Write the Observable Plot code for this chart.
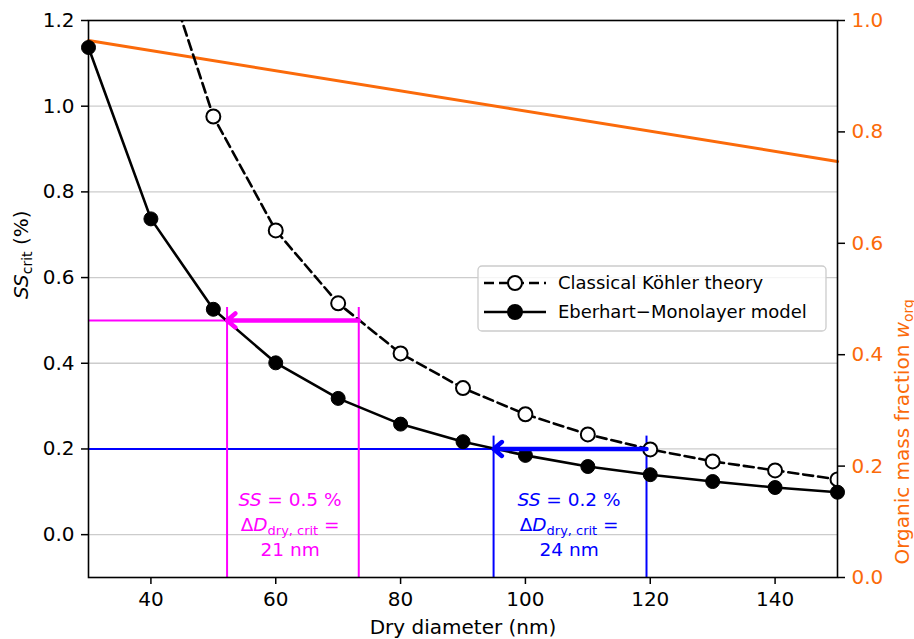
<!DOCTYPE html>
<html>
<head>
<meta charset="utf-8">
<script src="https://cdn.jsdelivr.net/npm/d3@7"></script>
<script src="https://cdn.jsdelivr.net/npm/@observablehq/plot@0.6"></script>
<style>
  html, body { margin: 0; padding: 0; background: white; }
  svg { display: block; }
</style>
</head>
<body>
<div id="chart"></div>
<script>
// ---------- data ----------
const diameters = [30, 40, 50, 60, 70, 80, 90, 100, 110, 120, 130, 140, 150];
const ssEberhart = [1.137, 0.737, 0.526, 0.401, 0.318, 0.258, 0.217, 0.185, 0.159, 0.140, 0.124, 0.110, 0.099];
const diametersClassical = [40, 50, 60, 70, 80, 90, 100, 110, 120, 130, 140, 150];
const ssClassical = [1.42, 0.976, 0.710, 0.540, 0.423, 0.342, 0.281, 0.234, 0.199, 0.171, 0.150, 0.129];
const orgDiameters = [30, 150];
const wOrg = [0.964, 0.747];

const ssLevels = [0.5, 0.2];
const dClassicalAtSS = [73.3, 119.4];
const dEberhartAtSS = [52.2, 94.9];
const guideTops = [0.53, 0.23];
const guideColors = ["#ff00ff", "#0000ff"];
const annX = [62.3, 107.0];
const annY = [0.066, 0.008, -0.05];
const annTexts = [
  ["*SS* = 0.5 %", "Δ*D*_{dry, crit} =", "21 nm"],
  ["*SS* = 0.2 %", "Δ*D*_{dry, crit} =", "24 nm"]
];

const xTicks = [40, 60, 80, 100, 120, 140];
const yTicks = [0.0, 0.2, 0.4, 0.6, 0.8, 1.0, 1.2];
const gridTicks = [0.0, 0.2, 0.4, 0.6, 0.8, 1.0];
const wTicks = [0.0, 0.2, 0.4, 0.6, 0.8, 1.0];
const xDomain = [30, 150];
const yDomain = [-0.1, 1.2];

const legendLabels = ["Classical Köhler theory", "Eberhart\u2212Monolayer model"];

const orange = "#fb6a0a";

// right axis (w_org, 0..1) mapped onto the left y scale
const toLeft = w => yDomain[0] + w * (yDomain[1] - yDomain[0]);

// ---------- tables ----------
const eberhart = diameters.map((d, i) => ({d, ss: ssEberhart[i]}));
const classical = diametersClassical.map((d, i) => ({d, ss: ssClassical[i]}));
const organic = orgDiameters.map((d, i) => ({d, w: wOrg[i]}));
const guides = ssLevels.map((ss, i) => ({
  ss, dC: dClassicalAtSS[i], dE: dEberhartAtSS[i], top: guideTops[i], color: guideColors[i]
}));
const annotations = [];
annTexts.forEach((lines, i) => lines.forEach((t, j) => annotations.push({x: annX[i], y: annY[j], text: t, color: guideColors[i]})));

const svg = Plot.plot({
  width: 914,
  height: 639,
  marginLeft: 88,
  marginRight: 77,
  marginTop: 20,
  marginBottom: 62,
  style: {fontFamily: "'DejaVu Sans', sans-serif", background: "white"},
  x: {domain: xDomain},
  y: {domain: yDomain},
  color: {type: "identity"},
  marks: [
    Plot.gridY(gridTicks, {stroke: "#cccccc", strokeOpacity: 1, strokeWidth: 1.3}),
    // guide lines
    Plot.ruleY(guides, {y: "ss", x1: xDomain[0], x2: "dC", stroke: "color", strokeWidth: 2}),
    Plot.ruleX(guides, {x: "dC", y1: yDomain[0], y2: "top", stroke: "color", strokeWidth: 2}),
    Plot.ruleX(guides, {x: "dE", y1: yDomain[0], y2: "top", stroke: "color", strokeWidth: 2}),
    // organic mass fraction
    Plot.line(organic, {x: "d", y: p => toLeft(p.w), stroke: orange, strokeWidth: 3}),
    // classical
    Plot.line(classical, {x: "d", y: "ss", stroke: "black", strokeWidth: 2.6, strokeDasharray: "10,5", clip: "frame"}),
    Plot.dot(classical, {x: "d", y: "ss", r: 7, fill: "white", stroke: "black", strokeWidth: 2, clip: "frame"}),
    // Eberhart
    Plot.line(eberhart, {x: "d", y: "ss", stroke: "black", strokeWidth: 2.6}),
    Plot.dot(eberhart, {x: "d", y: "ss", r: 7, fill: "black", stroke: "black", strokeWidth: 1}),
    // arrows
    Plot.arrow(guides, {x1: "dC", y1: "ss", x2: "dE", y2: "ss", stroke: "color", strokeWidth: 4.5, headLength: 3.6, headAngle: 80, strokeLinejoin: "miter"}),
    // annotations
    Plot.text(annotations, {x: "x", y: "y", text: "text", fill: "color", fontSize: 18.5, textAnchor: "middle", lineAnchor: "bottom"}),
    // frame and axes
    Plot.frame({stroke: "black", strokeWidth: 1.6}),
    Plot.axisX(xTicks, {tickSize: 7, tickPadding: 7, fontSize: 20, strokeWidth: 1.5, label: null}),
    Plot.axisY(yTicks, {anchor: "left", tickSize: 7, tickPadding: 7, fontSize: 20, strokeWidth: 1.5, tickFormat: d3.format(".1f"), label: null}),
    Plot.axisY(wTicks.map(toLeft), {anchor: "right", tickSize: 7, tickPadding: 7, fontSize: 20, strokeWidth: 1.5, stroke: "black", fill: orange, tickFormat: v => ((v - yDomain[0]) / (yDomain[1] - yDomain[0])).toFixed(1), label: null}),
    // axis titles
    Plot.text(["Dry diameter (nm)"], {frameAnchor: "bottom", dy: 56, fontSize: 20, lineAnchor: "bottom", fill: "black"}),
    Plot.text(["*SS*_{crit} (%)"], {frameAnchor: "left", dx: -61, rotate: -90, fontSize: 20, lineAnchor: "bottom", fill: "black"}),
    Plot.text(["Organic mass fraction *w*_{org}"], {frameAnchor: "right", dx: 71, rotate: -90, fontSize: 20, lineAnchor: "bottom", fill: orange})
  ]
});

document.getElementById("chart").appendChild(svg);

// ---------- rich text (italic / subscript) ----------
d3.select(svg).selectAll("text").each(function () {
  const s = this.textContent;
  if (!/\*|_\{/.test(s)) return;
  const fs = parseFloat(getComputedStyle(this).fontSize) || 20;
  const parts = s.split(/(\*[^*]+\*|_\{[^}]+\})/).filter(p => p);
  this.textContent = "";
  let shifted = 0;
  for (const p of parts) {
    const t = d3.select(this).append("tspan");
    let dy;
    if (p.startsWith("_{")) {
      t.text(p.slice(2, -1)).attr("font-size", fs * 0.7);
      dy = fs * 0.2 - shifted; shifted = fs * 0.2;
    } else {
      if (p.startsWith("*")) t.text(p.slice(1, -1)).attr("font-style", "italic");
      else t.text(p);
      dy = -shifted; shifted = 0;
    }
    if (dy) t.attr("dy", dy);
  }
});

// ---------- legend ----------
const lg = d3.select(svg).append("g")
  .attr("font-family", "'DejaVu Sans', sans-serif")
  .attr("text-anchor", "start");
lg.append("rect").attr("x", 478).attr("y", 266).attr("width", 348).attr("height", 65).attr("rx", 4)
  .attr("fill", "white").attr("fill-opacity", 0.8).attr("stroke", "#cccccc").attr("stroke-width", 1.3);
const rows = [
  {y: 283, dash: "10,5", fill: "white", label: legendLabels[0]},
  {y: 312, dash: null, fill: "black", label: legendLabels[1]}
];
rows.forEach(r => {
  const l = lg.append("line").attr("x1", 484).attr("x2", 546).attr("y1", r.y).attr("y2", r.y)
    .attr("stroke", "black").attr("stroke-width", 2.6);
  if (r.dash) l.attr("stroke-dasharray", r.dash);
  lg.append("circle").attr("cx", 515).attr("cy", r.y).attr("r", 7).attr("fill", r.fill).attr("stroke", "black").attr("stroke-width", 2);
  lg.append("text").attr("x", 558).attr("y", r.y).attr("dy", "0.35em").attr("font-size", 18)
    .attr("text-anchor", "start").attr("fill", "black").text(r.label);
});
</script>
</body>
</html>
